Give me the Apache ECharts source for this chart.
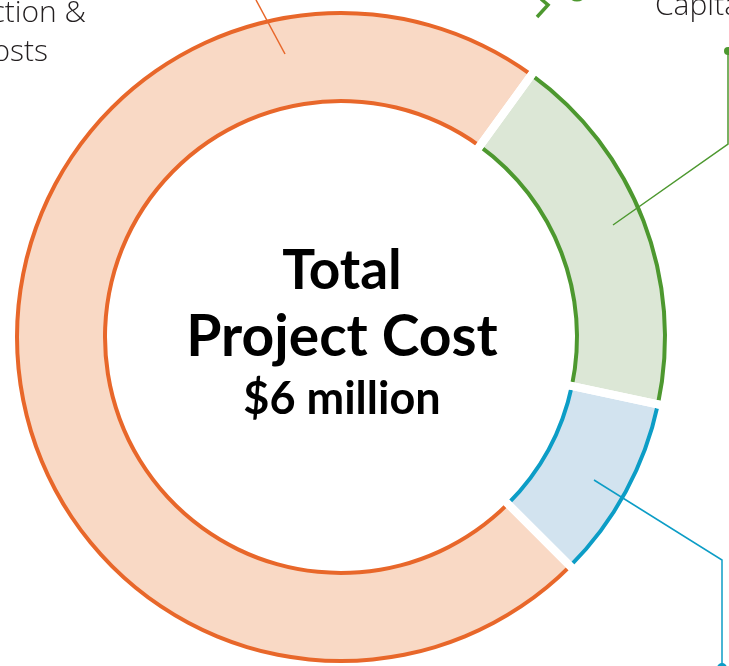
<!DOCTYPE html>
<html lang="en">
<head>
    <meta charset="UTF-8">
    <title>Total Project Cost</title>
    <style>
        html, body {
            margin: 0;
            padding: 0;
            background-color: #ffffff;
        }
        #chart {
            width: 729px;
            height: 666px;
        }
    </style>
    <script src="https://cdn.jsdelivr.net/npm/echarts@6/dist/echarts.min.js"></script>
</head>
<body>

<div id="chart"></div>

<script>
    // Cost split, in $ million
    var segmentNames = ['Capital Equipment', 'Other Costs', 'Construction & Installation Costs'];
    var segmentValues = [1.1, 0.55, 4.35];
    var strokeColors = ['#4d982f', '#0c9dc6', '#e8672a'];
    var fillColors = ['#dce7d6', '#d2e3ef', '#f9d9c5'];

    var centerLines = ['Total', 'Project Cost', '$6 million'];

    var pieData = segmentNames.map(function (name, i) {
        return { name: name, value: segmentValues[i] };
    });

    function ringSeries(radius, colors, z, border) {
        return {
            type: 'pie',
            center: [341, 337],
            radius: radius,
            startAngle: 54,
            clockwise: true,
            silent: true,
            z: z,
            label: { show: false },
            labelLine: { show: false },
            emphasis: { disabled: true },
            data: pieData.map(function (d, i) {
                return {
                    name: d.name,
                    value: d.value,
                    itemStyle: {
                        color: colors[i],
                        borderColor: border ? '#ffffff' : colors[i],
                        borderWidth: border ? 8 : 0
                    }
                };
            })
        };
    }

    var chart = echarts.init(document.getElementById('chart'));

    var labelFont = '300 30px "Open Sans", sans-serif';
    var centerFont = 'bold {size}px Lato, sans-serif';

    chart.setOption({
        animation: false,
        series: [
            // outer / inner coloured rims
            ringSeries([234, 326], strokeColors, 1, false),
            // pale fill
            ringSeries([238, 322], fillColors, 2, false),
            // white gaps between the pieces
            ringSeries([215, 345], ['rgba(0,0,0,0)', 'rgba(0,0,0,0)', 'rgba(0,0,0,0)'], 3, true)
        ],
        graphic: [
            // centre text
            {
                type: 'text', z: 50, x: 342, y: 299,
                style: { text: centerLines[0], font: centerFont.replace('{size}', 55), fill: '#000', align: 'center', verticalAlign: 'bottom' }
            },
            {
                type: 'text', z: 50, x: 342, y: 366,
                style: { text: centerLines[1], font: centerFont.replace('{size}', 57), fill: '#000', align: 'center', verticalAlign: 'bottom' }
            },
            {
                type: 'text', z: 50, x: 342, y: 422,
                style: { text: centerLines[2], font: centerFont.replace('{size}', 45), fill: '#000', align: 'center', verticalAlign: 'bottom' }
            },
            // labels, cut by the frame
            {
                type: 'text', z: 50, x: 86, y: 28,
                style: { text: 'Construction &', font: labelFont, fill: '#231f20', align: 'right', verticalAlign: 'bottom' }
            },
            {
                type: 'text', z: 50, x: 48, y: 67,
                style: { text: 'Installation Costs', font: labelFont, fill: '#231f20', align: 'right', verticalAlign: 'bottom' }
            },
            {
                type: 'text', z: 50, x: 655, y: 21,
                style: { text: 'Capital Equipment', font: labelFont, fill: '#231f20', align: 'left', verticalAlign: 'bottom' }
            },
            // leader lines
            {
                type: 'polyline', z: 60,
                shape: { points: [[285, 54], [256, 0]] },
                style: { stroke: strokeColors[2], lineWidth: 1.5, fill: null }
            },
            {
                type: 'polyline', z: 60,
                shape: { points: [[613, 225], [728, 144], [728, 51]] },
                style: { stroke: strokeColors[0], lineWidth: 1.5, fill: null }
            },
            {
                type: 'circle', z: 60,
                shape: { cx: 728, cy: 51, r: 4 },
                style: { fill: strokeColors[0] }
            },
            {
                type: 'polyline', z: 60,
                shape: { points: [[594, 480], [722, 560], [722, 666]] },
                style: { stroke: strokeColors[1], lineWidth: 1.5, fill: null }
            },
            {
                type: 'circle', z: 60,
                shape: { cx: 722, cy: 668, r: 5 },
                style: { fill: strokeColors[1] }
            },
            // bits of an icon above the ring
            {
                type: 'polyline', z: 60,
                shape: { points: [[541, -1], [548, 5], [537, 17]] },
                style: { stroke: strokeColors[0], lineWidth: 3.5, fill: null }
            },
            {
                type: 'circle', z: 60,
                shape: { cx: 577, cy: -9, r: 9 },
                style: { stroke: strokeColors[0], lineWidth: 3, fill: null }
            }
        ]
    });
</script>
</body>
</html>
